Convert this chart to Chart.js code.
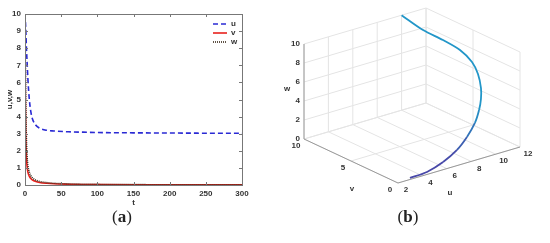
<!DOCTYPE html>
<html>
<head>
<meta charset="utf-8">
<script src="https://cdn.jsdelivr.net/npm/chart.js@4.4.0/dist/chart.umd.min.js"></script>
<style>
  body { margin: 0; background: #fff; width: 550px; height: 243px; position: relative; overflow: hidden; }
  .panel { position: absolute; }
  .cap { position: absolute; top: 207px; font-family: "Liberation Serif", "DejaVu Serif", serif; font-size: 17px; color: #222; transform: translateX(-50%); }
</style>
</head>
<body>
<div class="panel" style="left:0;top:0;width:260px;height:212px"><canvas id="ts"></canvas></div>
<div class="panel" style="left:275px;top:0;width:275px;height:243px"><canvas id="ph"></canvas></div>
<div class="cap" style="left:122px">(<b>a</b>)</div>
<div class="cap" style="left:408px">(<b>b</b>)</div>
<script>
// (a) time series
const tValues = [0, 0.5, 1, 2, 3, 4, 6, 8, 10, 15, 20, 30, 40, 60, 80, 100, 150, 200, 250, 300];
const uValues = [10, 9.6, 9.2, 8.0, 7.1, 6.2, 5.0, 4.3, 3.9, 3.5, 3.33, 3.2, 3.16, 3.11, 3.09, 3.07, 3.05, 3.04, 3.03, 3.03];
const vValues = [10, 5.5, 3.2, 1.6, 1.05, 0.75, 0.5, 0.38, 0.3, 0.2, 0.15, 0.1, 0.07, 0.045, 0.03, 0.025, 0.015, 0.01, 0.008, 0.006];
const wValues = [10, 7.0, 4.8, 2.6, 1.6, 1.15, 0.75, 0.55, 0.43, 0.28, 0.21, 0.14, 0.1, 0.065, 0.045, 0.035, 0.022, 0.015, 0.012, 0.01];
const tTicks = [0, 50, 100, 150, 200, 250, 300];
const yTicks = [0, 1, 2, 3, 4, 5, 6, 7, 8, 9, 10];

// (b) phase portrait
const phaseU = [10, 10.78, 11.68, 12.38, 12.65, 12.5, 12.06, 11.55, 10.91, 10.03, 8.84, 7.56, 6.05, 4.49, 3.05];
const phaseV = [10, 8.73, 7.78, 6.88, 5.95, 5.12, 4.23, 3.57, 2.94, 2.24, 1.54, 0.94, 0.46, 0.15, 0.09];
const phaseW = [10, 8.73, 7.78, 6.88, 5.95, 5.12, 4.23, 3.57, 2.94, 2.24, 1.54, 0.94, 0.46, 0.15, 0.09];
const uTicks3d = [2, 4, 6, 8, 10, 12];
const vTicks3d = [0, 5, 10];
const wTicks3d = [0, 2, 4, 6, 8, 10];

const tickFont = {family: 'Liberation Sans, Arial, sans-serif', size: 8, weight: 'bold'};
const txt = '#333';

const pts = ys => tValues.map((t, i) => ({x: t, y: ys[i]}));

const frame = {
  id: 'frame',
  afterDraw(chart) {
    const {ctx, chartArea: a, scales: {x, y}} = chart;
    ctx.save();
    ctx.strokeStyle = '#777';
    ctx.lineWidth = 1;
    ctx.strokeRect(a.left + 0.5, a.top + 0.5, a.right - a.left, a.bottom - a.top);
    ctx.beginPath();
    tTicks.forEach(v => {
      const px = Math.round(x.getPixelForValue(v)) + 0.5;
      ctx.moveTo(px, a.bottom); ctx.lineTo(px, a.bottom - 3);
      ctx.moveTo(px, a.top); ctx.lineTo(px, a.top + 3);
    });
    yTicks.forEach(v => {
      const py = Math.round(y.getPixelForValue(v)) + 0.5;
      ctx.moveTo(a.left, py); ctx.lineTo(a.left + 3, py);
      ctx.moveTo(a.right, py); ctx.lineTo(a.right - 3, py);
    });
    ctx.stroke();
    // legend in the upper right corner
    ctx.font = 'bold 8px Liberation Sans, Arial, sans-serif';
    ctx.textBaseline = 'middle';
    ['u', 'v', 'w'].forEach((name, i) => {
      const ds = chart.data.datasets[i];
      const ly = a.top + 10 + i * 9;
      ctx.strokeStyle = ds.borderColor;
      ctx.lineWidth = ds.borderWidth;
      ctx.setLineDash(ds.borderDash || []);
      ctx.beginPath();
      ctx.moveTo(a.right - 29, ly); ctx.lineTo(a.right - 15, ly);
      ctx.stroke();
      ctx.setLineDash([]);
      ctx.fillStyle = txt;
      ctx.fillText(name, a.right - 11, ly);
    });
    ctx.restore();
  }
};

new Chart(document.getElementById('ts'), {
  type: 'line',
  data: {
    datasets: [
      {label: 'u', data: pts(uValues), borderColor: '#2a2ad4', borderDash: [5, 3], borderWidth: 1.6, order: 3},
      {label: 'v', data: pts(vValues), borderColor: '#e8201c', borderWidth: 1.6, order: 2},
      {label: 'w', data: pts(wValues), borderColor: '#3b2b1b', borderDash: [1, 1], borderWidth: 1.6, order: 1}
    ]
  },
  options: {
    animation: false,
    responsive: true,
    maintainAspectRatio: false,
    elements: {point: {radius: 0}, line: {cubicInterpolationMode: 'monotone'}},
    layout: {padding: {top: 14, right: 18, left: 0, bottom: 0}},
    plugins: {legend: {display: false}, tooltip: {enabled: false}},
    scales: {
      x: {
        type: 'linear', min: 0, max: 300,
        afterBuildTicks: s => { s.ticks = tTicks.map(v => ({value: v})); },
        grid: {display: false, drawTicks: false},
        border: {display: false},
        ticks: {font: tickFont, color: txt, padding: 4, maxRotation: 0},
        title: {display: true, text: 't', font: tickFont, color: txt, padding: {top: 0, bottom: 4}},
        afterFit: s => { s.height = 27; }
      },
      y: {
        type: 'linear', min: 0, max: 10,
        afterBuildTicks: s => { s.ticks = yTicks.map(v => ({value: v})); },
        grid: {display: false, drawTicks: false},
        border: {display: false},
        ticks: {font: tickFont, color: txt, padding: 4},
        title: {display: true, text: 'u,v,w', font: tickFont, color: txt, padding: {top: 5, bottom: 5}},
        afterFit: s => { s.width = 25; }
      }
    }
  },
  plugins: [frame]
});

// simple fixed camera for the 3D box
const cam = {ox: 123, oy: 183, ux: 12.2, uy: -3.6, vx: -9.4, vy: -4.4, wy: -9.5};
function project(u, v, w) {
  return {x: cam.ox + cam.ux * (u - 2) + cam.vx * v, y: cam.oy + cam.uy * (u - 2) + cam.vy * v + cam.wy * w};
}

function curveColor(w) {
  const k = Math.min(1, Math.max(0, (w - 0.8) / 2.5));
  const a = [72, 72, 168], b = [34, 150, 200];
  return `rgb(${a.map((c, i) => Math.round(c + (b[i] - c) * k)).join(',')})`;
}

const box3d = {
  id: 'box3d',
  beforeDatasetsDraw(chart) {
    const {ctx, scales: {x, y}} = chart;
    const px = p => [x.getPixelForValue(p.x), y.getPixelForValue(p.y)];
    const line = (a, b) => {
      const p = px(project(...a)), q = px(project(...b));
      ctx.moveTo(p[0], p[1]); ctx.lineTo(q[0], q[1]);
    };
    ctx.save();
    ctx.lineWidth = 1;
    ctx.strokeStyle = '#e4e4e4';
    ctx.beginPath();
    uTicks3d.forEach(u => { line([u, 0, 0], [u, 10, 0]); line([u, 10, 0], [u, 10, 10]); });
    vTicks3d.forEach(v => { line([2, v, 0], [12, v, 0]); line([12, v, 0], [12, v, 10]); });
    wTicks3d.forEach(w => { line([2, 10, w], [12, 10, w]); line([12, 0, w], [12, 10, w]); });
    ctx.stroke();

    ctx.strokeStyle = '#999';
    ctx.beginPath();
    line([2, 10, 0], [2, 10, 10]);
    line([2, 10, 0], [2, 0, 0]);
    line([2, 0, 0], [12, 0, 0]);
    ctx.stroke();

    ctx.fillStyle = txt;
    ctx.font = 'bold 8px Liberation Sans, Arial, sans-serif';
    ctx.textBaseline = 'middle';
    ctx.textAlign = 'right';
    wTicks3d.forEach(w => { const p = px(project(2, 10, w)); ctx.fillText(String(w), p[0] - 4, p[1]); });
    ctx.textAlign = 'center';
    vTicks3d.forEach(v => { const p = px(project(2, v, 0)); ctx.fillText(String(v), p[0] - 8, p[1] + 7); });
    uTicks3d.forEach(u => { const p = px(project(u, 0, 0)); ctx.fillText(String(u), p[0] + 8, p[1] + 7); });
    let p = px(project(2, 10, 5)); ctx.fillText('w', p[0] - 17, p[1] - 3);
    p = px(project(2, 5, 0)); ctx.fillText('v', p[0] + 1, p[1] + 28);
    p = px(project(7, 0, 0)); ctx.fillText('u', p[0] - 9, p[1] + 28);
    ctx.restore();
  }
};

new Chart(document.getElementById('ph'), {
  type: 'scatter',
  data: {
    datasets: [{
      data: phaseU.map((u, i) => project(u, phaseV[i], phaseW[i])),
      showLine: true,
      tension: 0.3,
      borderWidth: 1.8,
      pointRadius: 0,
      borderColor: curveColor(10),
      segment: {borderColor: c => curveColor(phaseW[c.p0DataIndex])}
    }]
  },
  options: {
    animation: false,
    responsive: true,
    maintainAspectRatio: false,
    layout: {padding: 0},
    plugins: {legend: {display: false}, tooltip: {enabled: false}},
    scales: {
      x: {type: 'linear', min: 0, max: 275, display: false},
      y: {type: 'linear', min: 0, max: 243, reverse: true, display: false}
    }
  },
  plugins: [box3d]
});
</script>
</body>
</html>
